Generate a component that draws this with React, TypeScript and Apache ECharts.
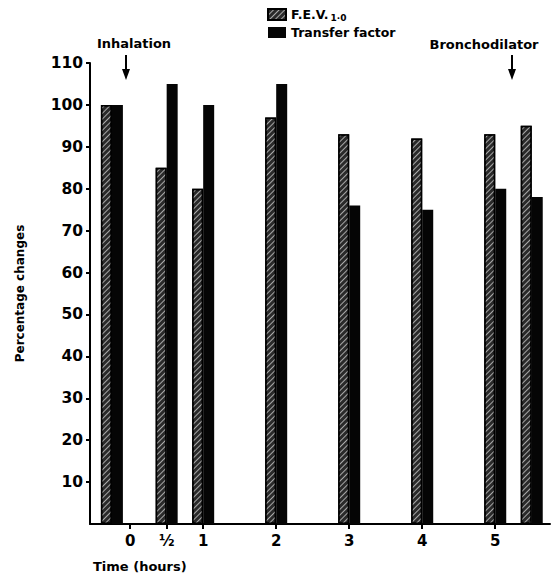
import React, { useEffect, useRef } from "react";
import * as echarts from "echarts";

// Time (hours) of each measurement pair; first pair is the pre-inhalation baseline
const times = [-0.25, 0.5, 1, 2, 3, 4, 5, 5.5];
const fevValues = [100, 85, 80, 97, 93, 92, 93, 95];
const transferValues = [100, 105, 100, 105, 76, 75, 80, 78];
const xTickValues = [0, 0.5, 1, 2, 3, 4, 5];
const yTickValues = [10, 20, 30, 40, 50, 60, 70, 80, 90, 100, 110];
const seriesNames = ["F.E.V.1-0", "Transfer factor"];

const FONT = "DejaVu Sans";

export default function App() {
  const ref = useRef<HTMLDivElement>(null);

  useEffect(() => {
    if (!ref.current) return;
    const chart = echarts.init(ref.current, null, { renderer: "svg" });
    const fevData = times.map((t, i) => [t, fevValues[i]]);
    const trData = times.map((t, i) => [t, transferValues[i]]);

    const arrow = (x: number) => [
      {
        type: "line",
        shape: { x1: x, y1: 55, x2: x, y2: 72 },
        style: { stroke: "#000", lineWidth: 2 },
      },
      {
        type: "polygon",
        shape: { points: [[x - 4, 69], [x + 4, 69], [x, 80]] },
        style: { fill: "#000" },
      },
    ];

    chart.setOption({
      animation: false,
      backgroundColor: "#fff",
      textStyle: { fontFamily: FONT, fontWeight: "bold", color: "#000" },
      grid: { left: 90, right: 2, top: 63, bottom: 53, containLabel: false },
      legend: {
        orient: "vertical",
        left: 262,
        top: 2,
        itemWidth: 18,
        itemHeight: 11,
        itemGap: 4,
        icon: "rect",
        data: seriesNames,
        formatter: (name: string) =>
          name === seriesNames[0] ? "{a|F.E.V.}{s|1·0}" : "{a|" + name + "}",
        textStyle: {
          fontFamily: FONT,
          fontWeight: "bold",
          color: "#000",
          rich: {
            a: { fontSize: 12.5, lineHeight: 16, fontWeight: "bold", fontFamily: FONT, color: "#000" },
            s: {
              fontSize: 9,
              lineHeight: 16,
              fontWeight: "bold",
              fontFamily: FONT,
              color: "#000",
              padding: [6, 0, 0, 2],
            },
          },
        },
      },
      xAxis: {
        type: "value",
        min: -0.55,
        max: 5.75,
        splitLine: { show: false },
        axisLine: { show: true, onZero: false, lineStyle: { color: "#000", width: 2 } },
        axisTick: {
          show: true,
          customValues: xTickValues,
          length: 5,
          lineStyle: { color: "#000", width: 2 },
        },
        axisLabel: {
          customValues: xTickValues,
          formatter: (v: number) => (v === 0.5 ? "½" : String(v)),
          margin: 9,
          fontSize: 15,
          fontFamily: FONT,
          fontWeight: "bold",
          color: "#000",
        },
      },
      yAxis: {
        type: "value",
        min: 0,
        max: 110,
        interval: 10,
        splitLine: { show: false },
        name: "Percentage changes",
        nameLocation: "middle",
        nameGap: 64,
        nameRotate: 90,
        nameTextStyle: { fontSize: 12, fontWeight: "bold", fontFamily: FONT, color: "#000" },
        axisLine: { show: true, onZero: false, lineStyle: { color: "#000", width: 2 } },
        axisTick: {
          show: true,
          customValues: yTickValues,
          length: 4,
          lineStyle: { color: "#000", width: 2 },
        },
        axisLabel: {
          customValues: yTickValues,
          margin: 7,
          fontSize: 15.5,
          fontFamily: FONT,
          fontWeight: "bold",
          color: "#000",
        },
      },
      series: [
        {
          name: seriesNames[0],
          type: "bar",
          data: fevData,
          barWidth: 11,
          barGap: "0%",
          itemStyle: {
            color: "#2a2a2a",
            borderColor: "#000",
            borderWidth: 1.5,
            decal: {
              symbol: "rect",
              symbolSize: 1,
              dashArrayX: [1, 0],
              dashArrayY: [1, 2.2],
              rotation: -Math.PI / 4,
              color: "rgba(200,200,200,0.8)",
            },
          },
        },
        {
          name: seriesNames[1],
          type: "bar",
          data: trData,
          barWidth: 11,
          barGap: "0%",
          itemStyle: { color: "#050505" },
        },
      ],
      graphic: [
        {
          type: "text",
          x: 134,
          y: 43,
          style: {
            text: "Inhalation",
            font: `bold 13px ${FONT}`,
            fill: "#000",
            textAlign: "center",
            textVerticalAlign: "middle",
          },
        },
        ...arrow(126),
        {
          type: "text",
          x: 484,
          y: 44,
          style: {
            text: "Bronchodilator",
            font: `bold 13px ${FONT}`,
            fill: "#000",
            textAlign: "center",
            textVerticalAlign: "middle",
          },
        },
        ...arrow(512),
        {
          type: "text",
          x: 93,
          y: 566,
          style: {
            text: "Time (hours)",
            font: `bold 13px ${FONT}`,
            fill: "#000",
            textAlign: "left",
            textVerticalAlign: "middle",
          },
        },
      ],
    });
    return () => chart.dispose();
  }, []);

  return (
    <div
      ref={ref}
      style={{ position: "fixed", left: 0, top: 0, width: 552, height: 577 }}
    />
  );
}
